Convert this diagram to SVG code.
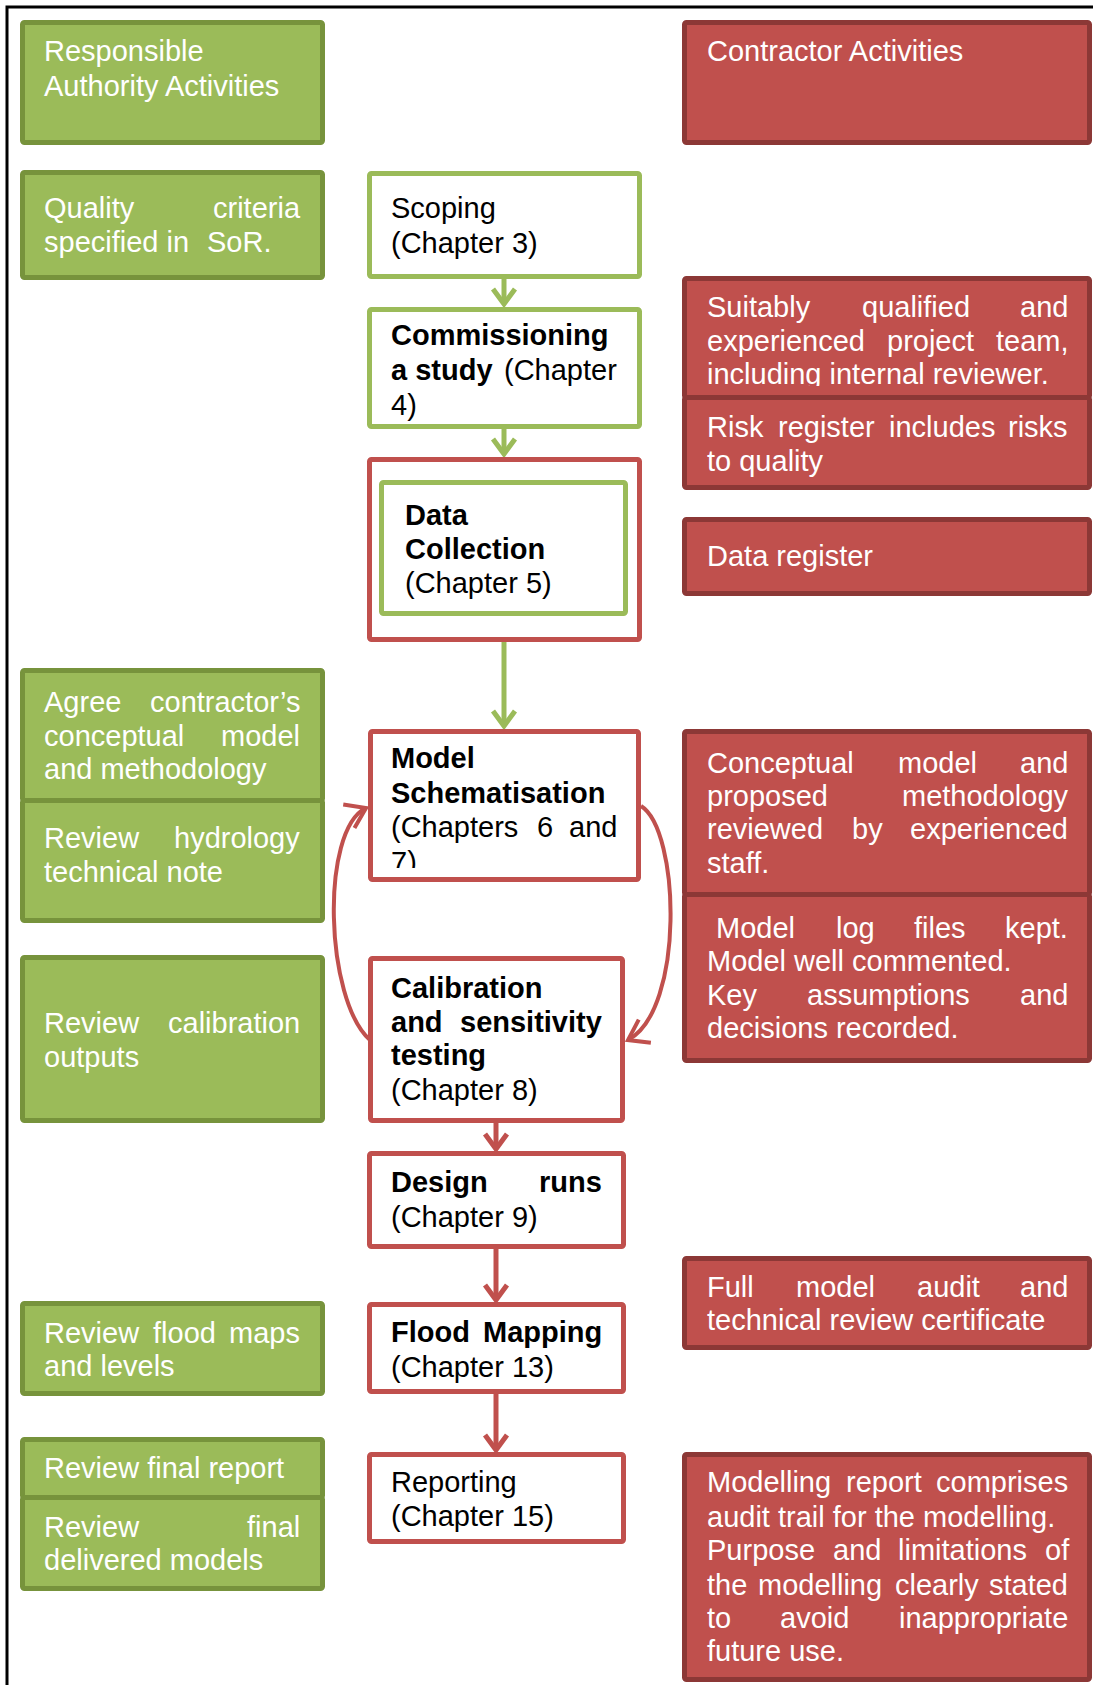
<svg xmlns="http://www.w3.org/2000/svg" width="1093" height="1685" viewBox="0 0 1093 1685">
<style>
text{font-family:"Liberation Sans",Arial,sans-serif;font-size:29px}
.g{fill:#9BBB59;stroke:#77933C;stroke-width:5}
.r{fill:#C0504D;stroke:#8C3836;stroke-width:5}
.wg{fill:#fff;stroke:#9BBB59;stroke-width:5}
.wr{fill:#fff;stroke:#C0504D;stroke-width:5}
.w{fill:#fff}
.k{fill:#000}
.b{font-weight:bold}
.cg{fill:none;stroke:#9BBB59;stroke-width:5}
.cr{fill:none;stroke:#C0504D;stroke-width:5}
.cc{fill:none;stroke:#C0504D;stroke-width:4}
</style>
<defs>
<marker id="ag" markerUnits="userSpaceOnUse" viewBox="-20 -14 24 28" markerWidth="24" markerHeight="28" refX="0" refY="0" orient="auto" overflow="visible"><path d="M-15,-11 L0,0 L-15,11" fill="none" stroke="#9BBB59" stroke-width="5"/></marker>
<marker id="ar" markerUnits="userSpaceOnUse" viewBox="-20 -14 24 28" markerWidth="24" markerHeight="28" refX="0" refY="0" orient="auto" overflow="visible"><path d="M-15,-11 L0,0 L-15,11" fill="none" stroke="#C0504D" stroke-width="5"/></marker>
<marker id="ac" markerUnits="userSpaceOnUse" viewBox="-26 -16 30 32" markerWidth="30" markerHeight="32" refX="0" refY="0" orient="auto" overflow="visible"><path d="M-19,-13 L0,0 L-19,13" fill="none" stroke="#C0504D" stroke-width="4"/></marker>
<clipPath id="clipSuit"><rect x="690" y="280" width="400" height="106"/></clipPath>
<clipPath id="clipModel"><rect x="375" y="735" width="260" height="133"/></clipPath>
</defs>
<rect width="1093" height="1685" fill="#fff"/>
<path d="M7,1685 V7 H1093" fill="none" stroke="#000" stroke-width="3"/>

<g id="connectors">
<line class="cg" x1="504" y1="279" x2="504" y2="304" marker-end="url(#ag)"/>
<line class="cg" x1="504" y1="429" x2="504" y2="454" marker-end="url(#ag)"/>
<line class="cg" x1="504" y1="642" x2="504" y2="726" marker-end="url(#ag)"/>
<line class="cr" x1="496" y1="1123" x2="496" y2="1149" marker-end="url(#ar)"/>
<line class="cr" x1="496" y1="1249" x2="496" y2="1300" marker-end="url(#ar)"/>
<line class="cr" x1="496" y1="1394" x2="496" y2="1450" marker-end="url(#ar)"/>
<path class="cc" d="M370,1040 C325,1000 320,830 366,808" marker-end="url(#ac)"/>
<path class="cc" d="M641,806 C680,830 685,1010 628,1040" marker-end="url(#ac)"/>
</g>

<g id="ra-header"><rect class="g" x="22.5" y="22.5" width="300" height="120" rx="2"/>
<text class="w"><tspan x="44" y="61">Responsible</tspan><tspan x="44" y="96">Authority Activities</tspan></text></g>

<g id="ra-quality"><rect class="g" x="22.5" y="172.5" width="300" height="105" rx="2"/>
<text class="w"><tspan x="44" y="218">Quality</tspan><tspan x="213" y="218">criteria</tspan><tspan x="44" y="252">specified in</tspan><tspan x="207" y="252">SoR.</tspan></text></g>

<g id="ra-agree"><rect class="g" x="22.5" y="670.5" width="300" height="130" rx="2"/>
<text class="w"><tspan x="44" y="712">Agree</tspan><tspan x="150" y="712">contractor’s</tspan><tspan x="44" y="746">conceptual</tspan><tspan x="221" y="746">model</tspan><tspan x="44" y="779">and methodology</tspan></text></g>

<g id="ra-hydrology"><rect class="g" x="22.5" y="800.5" width="300" height="120" rx="2"/>
<text class="w"><tspan x="44" y="848">Review</tspan><tspan x="174" y="848">hydrology</tspan><tspan x="44" y="882">technical note</tspan></text></g>

<g id="ra-calibration"><rect class="g" x="22.5" y="957.5" width="300" height="163" rx="2"/>
<text class="w"><tspan x="44" y="1033">Review</tspan><tspan x="168" y="1033">calibration</tspan><tspan x="44" y="1067">outputs</tspan></text></g>

<g id="ra-flood"><rect class="g" x="22.5" y="1303.5" width="300" height="90" rx="2"/>
<text class="w"><tspan x="44" y="1343">Review</tspan><tspan x="153" y="1343">flood</tspan><tspan x="229" y="1343">maps</tspan><tspan x="44" y="1376">and levels</tspan></text></g>

<g id="ra-report"><rect class="g" x="22.5" y="1439.5" width="300" height="58" rx="2"/>
<text class="w" x="44" y="1478">Review final report</text></g>

<g id="ra-models"><rect class="g" x="22.5" y="1497.5" width="300" height="91" rx="2"/>
<text class="w"><tspan x="44" y="1537">Review</tspan><tspan x="247" y="1537">final</tspan><tspan x="44" y="1570">delivered models</tspan></text></g>

<g id="scoping"><rect class="wg" x="369.5" y="173.5" width="270" height="103" rx="2"/>
<text class="k"><tspan x="391" y="218">Scoping</tspan><tspan x="391" y="253">(Chapter 3)</tspan></text></g>

<g id="commissioning"><rect class="wg" x="369.5" y="309.5" width="270" height="117" rx="2"/>
<text class="k"><tspan class="b" x="391" y="345">Commissioning</tspan><tspan class="b" x="391" y="380">a study</tspan><tspan x="504" y="380">(Chapter</tspan><tspan x="391" y="415">4)</tspan></text></g>

<g id="data-collection"><rect class="wr" x="369.5" y="459.5" width="270" height="180" rx="2"/>
<rect class="wg" x="381.5" y="482.5" width="244" height="131" rx="2"/>
<text class="k"><tspan class="b" x="405" y="525">Data</tspan><tspan class="b" x="405" y="559">Collection</tspan><tspan x="405" y="593">(Chapter 5)</tspan></text></g>

<g id="model-schematisation"><rect class="wr" x="370.5" y="731.5" width="268" height="148" rx="2"/>
<text class="k" clip-path="url(#clipModel)"><tspan class="b" x="391" y="768">Model</tspan><tspan class="b" x="391" y="803">Schematisation</tspan><tspan x="391" y="837">(Chapters</tspan><tspan x="537" y="837">6</tspan><tspan x="569" y="837">and</tspan><tspan x="391" y="872">7)</tspan></text></g>

<g id="calibration"><rect class="wr" x="370.5" y="958.5" width="252" height="162" rx="2"/>
<text class="k"><tspan class="b" x="391" y="998">Calibration</tspan><tspan class="b" x="391" y="1032">and</tspan><tspan class="b" x="460" y="1032">sensitivity</tspan><tspan class="b" x="391" y="1065">testing</tspan><tspan x="391" y="1100">(Chapter 8)</tspan></text></g>

<g id="design-runs"><rect class="wr" x="369.5" y="1153.5" width="254" height="93" rx="2"/>
<text class="k"><tspan class="b" x="391" y="1192">Design</tspan><tspan class="b" x="539" y="1192">runs</tspan><tspan x="391" y="1227">(Chapter 9)</tspan></text></g>

<g id="flood-mapping"><rect class="wr" x="369.5" y="1304.5" width="254" height="87" rx="2"/>
<text class="k"><tspan class="b" x="391" y="1342">Flood</tspan><tspan class="b" x="483" y="1342">Mapping</tspan><tspan x="391" y="1377">(Chapter 13)</tspan></text></g>

<g id="reporting"><rect class="wr" x="369.5" y="1454.5" width="254" height="87" rx="2"/>
<text class="k"><tspan x="391" y="1492">Reporting</tspan><tspan x="391" y="1526">(Chapter 15)</tspan></text></g>

<g id="ca-header"><rect class="r" x="684.5" y="22.5" width="405" height="120" rx="2"/>
<text class="w" x="707" y="61">Contractor Activities</text></g>

<g id="ca-team"><rect class="r" x="684.5" y="278.5" width="405" height="119" rx="2"/>
<text class="w" clip-path="url(#clipSuit)"><tspan x="707" y="317">Suitably</tspan><tspan x="862" y="317">qualified</tspan><tspan x="1020" y="317">and</tspan><tspan x="707" y="351">experienced</tspan><tspan x="887" y="351">project</tspan><tspan x="996" y="351">team,</tspan><tspan x="707" y="384">including internal reviewer.</tspan></text></g>

<g id="ca-risk"><rect class="r" x="684.5" y="397.5" width="405" height="90" rx="2"/>
<text class="w"><tspan x="707" y="437">Risk</tspan><tspan x="778" y="437">register</tspan><tspan x="889" y="437">includes</tspan><tspan x="1008" y="437">risks</tspan><tspan x="707" y="471">to quality</tspan></text></g>

<g id="ca-data"><rect class="r" x="684.5" y="519.5" width="405" height="74" rx="2"/>
<text class="w" x="707" y="566">Data register</text></g>

<g id="ca-conceptual"><rect class="r" x="684.5" y="731.5" width="405" height="163" rx="2"/>
<text class="w"><tspan x="707" y="773">Conceptual</tspan><tspan x="898" y="773">model</tspan><tspan x="1020" y="773">and</tspan><tspan x="707" y="806">proposed</tspan><tspan x="902" y="806">methodology</tspan><tspan x="707" y="839">reviewed</tspan><tspan x="852" y="839">by</tspan><tspan x="910" y="839">experienced</tspan><tspan x="707" y="873">staff.</tspan></text></g>

<g id="ca-log"><rect class="r" x="684.5" y="894.5" width="405" height="166" rx="2"/>
<text class="w"><tspan x="716" y="938">Model</tspan><tspan x="836" y="938">log</tspan><tspan x="914" y="938">files</tspan><tspan x="1005" y="938">kept.</tspan><tspan x="707" y="971">Model well commented.</tspan><tspan x="707" y="1005">Key</tspan><tspan x="807" y="1005">assumptions</tspan><tspan x="1020" y="1005">and</tspan><tspan x="707" y="1038">decisions recorded.</tspan></text></g>

<g id="ca-audit"><rect class="r" x="684.5" y="1258.5" width="405" height="89" rx="2"/>
<text class="w"><tspan x="707" y="1297">Full</tspan><tspan x="796" y="1297">model</tspan><tspan x="917" y="1297">audit</tspan><tspan x="1020" y="1297">and</tspan><tspan x="707" y="1330">technical review certificate</tspan></text></g>

<g id="ca-report"><rect class="r" x="684.5" y="1454.5" width="405" height="225" rx="2"/>
<text class="w"><tspan x="707" y="1492">Modelling</tspan><tspan x="846" y="1492">report</tspan><tspan x="936" y="1492">comprises</tspan><tspan x="707" y="1527">audit trail for the modelling.</tspan><tspan x="707" y="1560">Purpose</tspan><tspan x="833" y="1560">and</tspan><tspan x="898" y="1560">limitations</tspan><tspan x="1045" y="1560">of</tspan><tspan x="707" y="1595">the</tspan><tspan x="758" y="1595">modelling</tspan><tspan x="895" y="1595">clearly</tspan><tspan x="989" y="1595">stated</tspan><tspan x="707" y="1628">to</tspan><tspan x="780" y="1628">avoid</tspan><tspan x="899" y="1628">inappropriate</tspan><tspan x="707" y="1661">future use.</tspan></text></g>
</svg>
